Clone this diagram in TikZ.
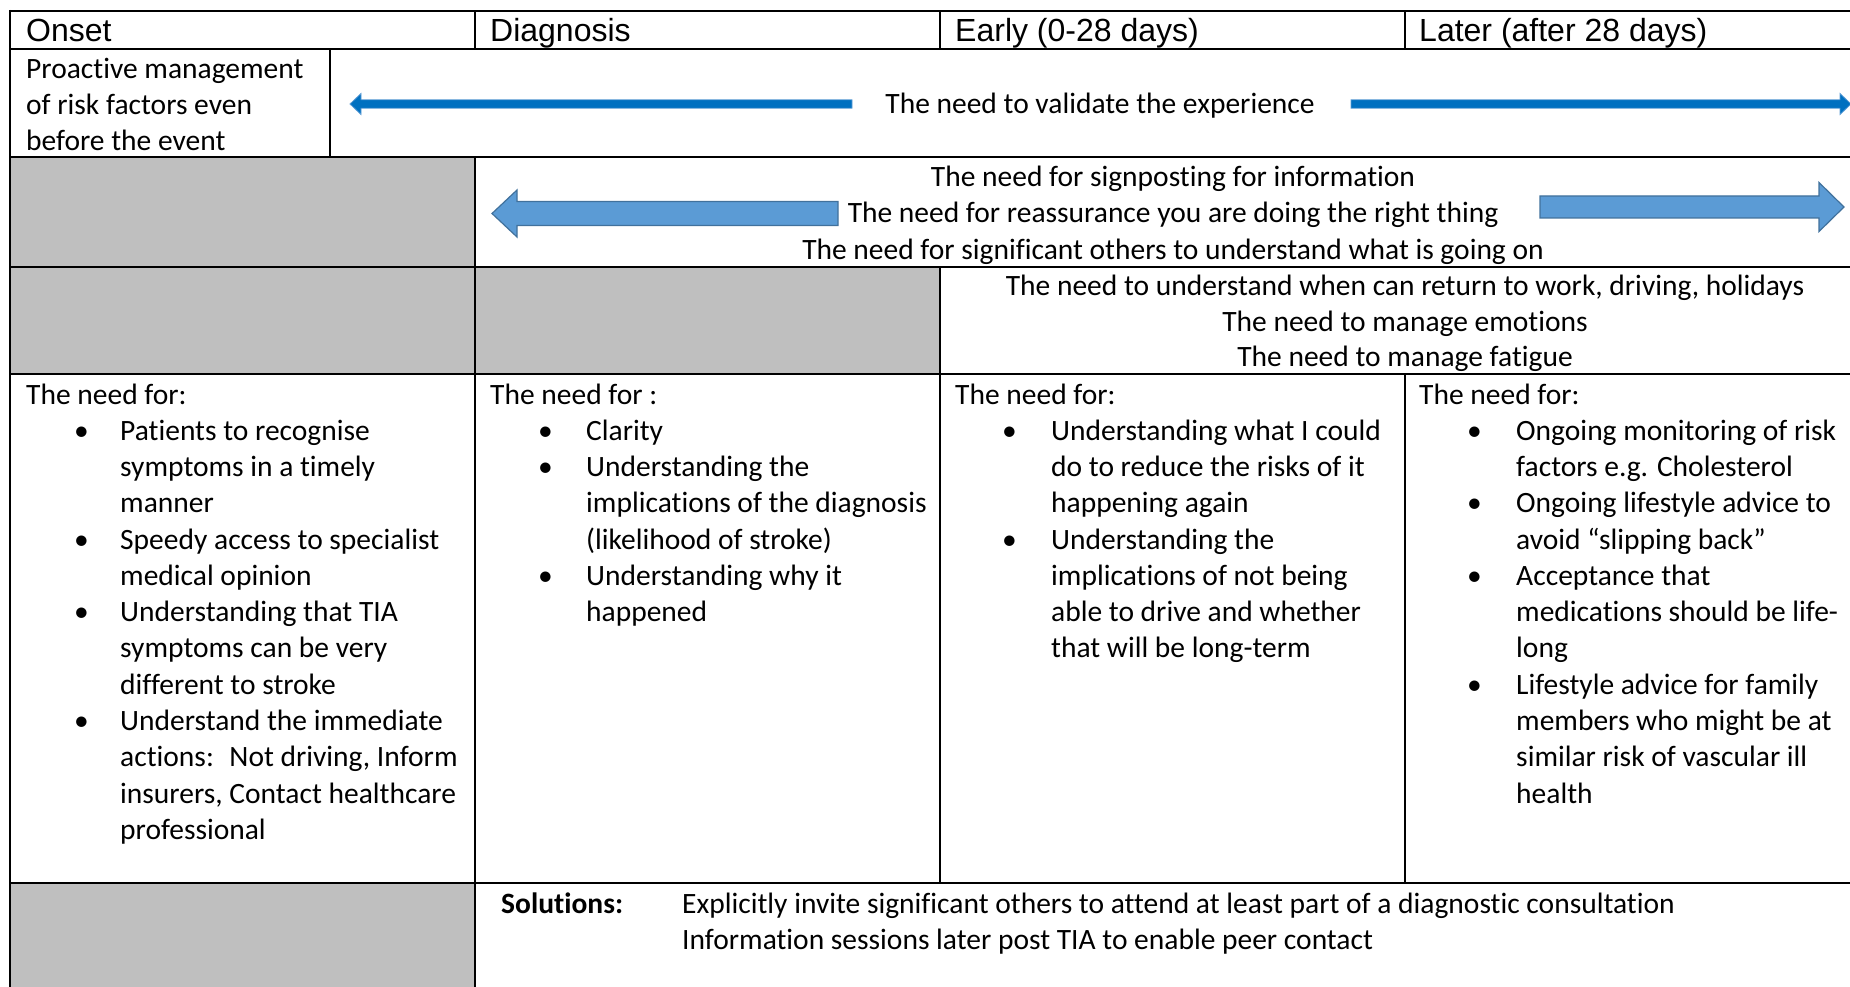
\documentclass[tikz,border=0pt]{standalone}
\usepackage{fontspec}
\setmainfont{Carlito}[Ligatures=CommonOff]
\newfontfamily\headfont{Liberation Sans}
\definecolor{cellgray}{HTML}{BFBFBF}
\definecolor{darkarrow}{HTML}{0070C0}
\definecolor{darkarrowedge}{HTML}{5B9BD5}
\definecolor{lightarrow}{HTML}{5B9BD5}
\definecolor{lightarrowedge}{HTML}{41719C}
\begin{document}
\begin{tikzpicture}[x=1pt,y=-1pt,
  rule/.style={line width=1.8pt},
  thinrule/.style={line width=1.3pt},
  head/.style={font=\headfont\fontsize{32}{36}\selectfont, anchor=base west, inner sep=0pt},
  txt/.style={font=\fontsize{29.5}{36}\selectfont, anchor=base west, inner sep=0pt},
  ctxt/.style={font=\fontsize{29.5}{36}\selectfont, anchor=base, inner sep=0pt},
  thinarrow/.style={fill=darkarrow, draw=darkarrowedge, line width=0.8pt},
  widearrow/.style={fill=lightarrow, draw=lightarrowedge, line width=1.2pt}]
\useasboundingbox (0,0) rectangle (1850,987);

% grey (unused) cells
\fill[cellgray] (10,157) rectangle (475,267);
\fill[cellgray] (10,267) rectangle (940,374);
\fill[cellgray] (10,883) rectangle (475,990);

% horizontal rules
\foreach \yy in {11,49,157,267,374,883}
  \draw[rule] (10,\yy) -- (1852,\yy);
% vertical rules
\draw[rule] (10,10) -- (10,990);
\draw[thinrule] (475,11) -- (475,49);
\draw[thinrule] (940,11) -- (940,49);
\draw[thinrule] (1405,11) -- (1405,49);
\draw[thinrule] (330,49) -- (330,157);
\draw[thinrule] (475,157) -- (475,990);
\draw[thinrule] (940,267) -- (940,883);
\draw[thinrule] (1405,374) -- (1405,883);

% column headings
\node[head] (hOnset) at (26,41.5) {Onset};
\node[head] (hDiag) at (490,41.5) {Diagnosis};
\node[head] (hEarly) at (955,41.5) {Early (0-28 days)};
\node[head] (hLater) at (1419,41.5) {Later (after 28 days)};

% row 2
\node[txt] (pro1) at (26,78.5) {Proactive management};
\node[txt] (pro2) at (26,114.5) {of risk factors even};
\node[txt] (pro3) at (26,150.5) {before the event};
\node[ctxt] (valid) at (1100,114) {The need to validate the experience};
\path[thinarrow] (350,104) -- (361,93.5) -- (361,99.8) -- (852,99.8) -- (852,108.2)
  -- (361,108.2) -- (361,114.5) -- cycle;
\path[thinarrow] (1351,99.8) -- (1840,99.8) -- (1840,93.5) -- (1851,104) -- (1840,114.5)
  -- (1840,108.2) -- (1351,108.2) -- cycle;

% row 3
\node[ctxt] (sign) at (1173,187) {The need for signposting for information};
\node[ctxt] (reas) at (1173,223) {The need for reassurance you are doing the right thing};
\node[ctxt] (others) at (1173,259) {The need for significant others to understand what is going on};
\path[widearrow] (492,213.5) -- (517,190) -- (517,201.5) -- (838,201.5) -- (838,225.5)
  -- (517,225.5) -- (517,237) -- cycle;
\path[widearrow] (1540,196) -- (1819,196) -- (1819,182.5) -- (1844,207) -- (1819,231.5)
  -- (1819,218) -- (1540,218) -- cycle;

% row 4
\node[ctxt] (work) at (1405,295) {The need to understand when can return to work, driving, holidays};
\node[ctxt] (emo) at (1405,331) {The need to manage emotions};
\node[ctxt] (fat) at (1405,366) {The need to manage fatigue};

% row 5, column 1
\node[txt] (c1h) at (26,404) {The need for:};
\foreach \k/\t in {1/Patients to recognise, 2/symptoms in a timely, 3/manner,
    4/Speedy access to specialist, 5/medical opinion, 6/Understanding that TIA,
    7/symptoms can be very, 8/different to stroke, 9/Understand the immediate,
    10/{actions:~ Not driving, Inform}, 11/{insurers, Contact healthcare}, 12/professional}
  \node[txt] (c1l\k) at (120,{404+36.28*\k}) {\t};
\foreach \k in {1,4,6,9}
  \node[txt] (c1b\k) at (74,{404+36.28*\k}) {•};

% row 5, column 2
\node[txt] (c2h) at (490,404) {The need for :};
\foreach \k/\t in {1/Clarity, 2/Understanding the, 3/implications of the diagnosis,
    4/(likelihood of stroke), 5/Understanding why it, 6/happened}
  \node[txt] (c2l\k) at (586,{404+36.28*\k}) {\t};
\foreach \k in {1,2,5}
  \node[txt] (c2b\k) at (538,{404+36.28*\k}) {•};

% row 5, column 3
\node[txt] (c3h) at (955,404) {The need for:};
\foreach \k/\t in {1/Understanding what I could, 2/do to reduce the risks of it,
    3/happening again, 4/Understanding the, 5/implications of not being,
    6/able to drive and whether, 7/that will be long-term}
  \node[txt] (c3l\k) at (1051,{404+36.28*\k}) {\t};
\foreach \k in {1,4}
  \node[txt] (c3b\k) at (1002,{404+36.28*\k}) {•};

% row 5, column 4
\node[txt] (c4h) at (1419,404) {The need for:};
\foreach \k/\t in {1/Ongoing monitoring of risk, 2/factors e.g. Cholesterol,
    3/Ongoing lifestyle advice to, 4/avoid “slipping back”, 5/Acceptance that,
    6/medications should be life-, 7/long, 8/Lifestyle advice for family,
    9/members who might be at, 10/similar risk of vascular ill, 11/health}
  \node[txt] (c4l\k) at (1516,{404+36.28*\k}) {\t};
\foreach \k in {1,3,5,8}
  \node[txt] (c4b\k) at (1467,{404+36.28*\k}) {•};

% row 6
\node[txt, font=\fontsize{29.5}{36}\selectfont\bfseries] (sol) at (501,913) {Solutions:};
\node[txt] (sol1) at (682,913) {Explicitly invite significant others to attend at least part of a diagnostic consultation};
\node[txt] (sol2) at (682,949) {Information sessions later post TIA to enable peer contact};
\end{tikzpicture}
\end{document}
